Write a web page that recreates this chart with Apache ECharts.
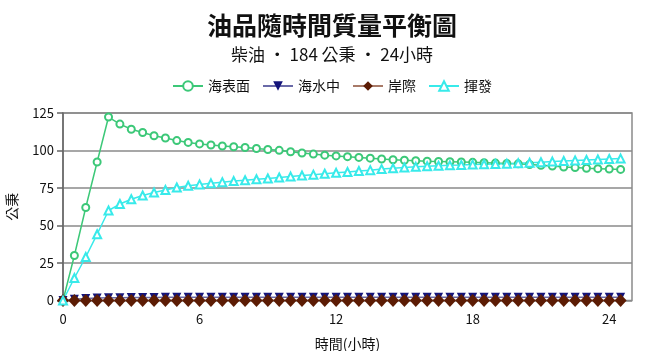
<!DOCTYPE html>
<html>
<head>
<meta charset="utf-8">
<script src="https://cdn.jsdelivr.net/npm/echarts@6/dist/echarts.min.js"></script>
<style>
  html, body { margin: 0; padding: 0; background: #fff; }
  #chart { width: 664px; height: 351px; }
</style>
</head>
<body>
<div id="chart"></div>
<script>
// hours, every half hour
const hours = [0, 0.5, 1, 1.5, 2, 2.5, 3, 3.5, 4, 4.5, 5, 5.5, 6, 6.5, 7, 7.5, 8, 8.5, 9, 9.5,
  10, 10.5, 11, 11.5, 12, 12.5, 13, 13.5, 14, 14.5, 15, 15.5, 16, 16.5, 17, 17.5, 18, 18.5, 19, 19.5,
  20, 20.5, 21, 21.5, 22, 22.5, 23, 23.5, 24, 24.5]

const surface = [0, 30, 62, 92.3, 122.3, 117.6, 114.2, 112, 109.8, 108.3, 106.6, 105.4, 104.4, 103.7, 103, 102.5,
  102, 101.3, 100.7, 100.1, 99.2, 98.3, 97.6, 96.9, 96.4, 95.9, 95.4, 94.9, 94.3, 93.8, 93.5, 93.2,
  92.9, 92.7, 92.5, 92.3, 92.1, 91.9, 91.6, 91.4, 91.1, 90.7, 90.1, 89.6, 89, 88.6, 88.2, 87.9, 87.6, 87.4]

const water = [0, 0.8, 1.3, 1.6, 1.8, 1.9, 2, 2, 2, 2.1, 2.1, 2.1, 2.1, 2.1, 2.1, 2.1, 2.1, 2.1, 2.1, 2.1,
  2.1, 2.1, 2.1, 2.1, 2.1, 2.1, 2.1, 2.1, 2.1, 2.1, 2.1, 2.1, 2.1, 2.1, 2.1, 2.1, 2.1, 2.1, 2.1, 2.1,
  2.1, 2.1, 2.1, 2.1, 2.1, 2.1, 2.1, 2.1, 2.1, 2.1]

const shore = [0, 0, 0, 0, 0, 0, 0, 0, 0, 0, 0, 0, 0, 0, 0, 0, 0, 0, 0, 0, 0, 0, 0, 0, 0,
  0, 0, 0, 0, 0, 0, 0, 0, 0, 0, 0, 0, 0, 0, 0, 0, 0, 0, 0, 0, 0, 0, 0, 0, 0]

const evaporated = [0, 15, 29, 44.2, 60, 64.3, 67.5, 70, 72, 73.7, 75.3, 76.5, 77.4, 78.1, 78.9, 79.6,
  80.2, 80.8, 81.3, 82, 82.6, 83.3, 83.9, 84.5, 85.1, 85.7, 86.3, 86.9, 87.6, 88.2, 88.7, 89.1,
  89.5, 89.8, 90.1, 90.3, 90.6, 90.8, 91, 91.2, 91.5, 91.8, 92.2, 92.6, 93, 93.4, 93.7, 94, 94.3, 94.6]

const seriesNames = ['海表面', '海水中', '岸際', '揮發']

const FONT = '"Noto Sans CJK TC", "Noto Sans", sans-serif'
const pairs = ys => hours.map((h, i) => [h, ys[i]])

const chart = echarts.init(document.getElementById('chart'), null, { renderer: 'canvas' })

chart.setOption({
  backgroundColor: '#fff',
  animation: false,
  textStyle: { fontFamily: FONT },
  title: [
    {
      text: '油品隨時間質量平衡圖',
      left: 'center', top: 8,
      textStyle: { fontSize: 25, fontWeight: 'bold', color: '#111', fontFamily: FONT },
    },
    {
      text: '柴油 ‧ 184 公秉 ‧ 24小時',
      left: 'center', top: 41,
      textStyle: { fontSize: 17, fontWeight: 'normal', color: '#111', fontFamily: FONT },
    },
  ],
  legend: {
    top: 74, left: 'center',
    itemWidth: 30, itemHeight: 12, itemGap: 12,
    textStyle: { fontSize: 14, color: '#111', fontFamily: FONT },
    data: seriesNames,
  },
  grid: {
    left: 63, right: 32, top: 113, bottom: 50.5,
    outerBoundsMode: 'none',
    show: true, borderColor: '#8a8a8a', borderWidth: 1.5,
  },
  xAxis: {
    type: 'value', min: 0, max: 25, interval: 6,
    name: '時間(小時)', nameLocation: 'middle', nameGap: 36,
    nameTextStyle: { fontSize: 14, color: '#111', fontFamily: FONT },
    axisLine: { show: false },
    axisTick: { show: false },
    splitLine: { show: false },
    axisLabel: { fontSize: 13, color: '#111', margin: 12, showMaxLabel: false },
  },
  yAxis: {
    type: 'value', min: 0, max: 125, interval: 25,
    name: '公秉', nameLocation: 'middle', nameGap: 44,
    nameTextStyle: { fontSize: 14, color: '#111', fontFamily: FONT },
    axisLine: { show: true, lineStyle: { color: '#666', width: 1.5 } },
    axisTick: { show: true, length: 6, lineStyle: { color: '#666', width: 1.5 } },
    splitLine: { lineStyle: { color: '#8a8a8a', width: 1.5 } },
    axisLabel: { fontSize: 13, color: '#111', margin: 9 },
  },
  series: [
    {
      name: seriesNames[0], type: 'line', data: pairs(surface),
      symbol: 'emptyCircle', symbolSize: 7,
      itemStyle: { color: '#3cc878', borderWidth: 1.2 },
      lineStyle: { color: '#3cc878', width: 1.5 },
    },
    {
      name: seriesNames[1], type: 'line', data: pairs(water),
      symbol: 'triangle', symbolRotate: 180, symbolSize: 9,
      itemStyle: { color: '#14147a' },
      lineStyle: { color: '#6a6aa8', width: 1.5 },
    },
    {
      name: seriesNames[2], type: 'line', data: pairs(shore),
      symbol: 'diamond', symbolSize: [12, 13],
      itemStyle: { color: '#5c1c04' },
      lineStyle: { color: '#a87a68', width: 1.5 },
    },
    {
      name: seriesNames[3], type: 'line', data: pairs(evaporated),
      symbol: 'emptyTriangle', symbolSize: 8,
      itemStyle: { color: '#38eaea', borderWidth: 1.2 },
      lineStyle: { color: '#38eaea', width: 1.5 },
    },
  ],
})
</script>
</body>
</html>
